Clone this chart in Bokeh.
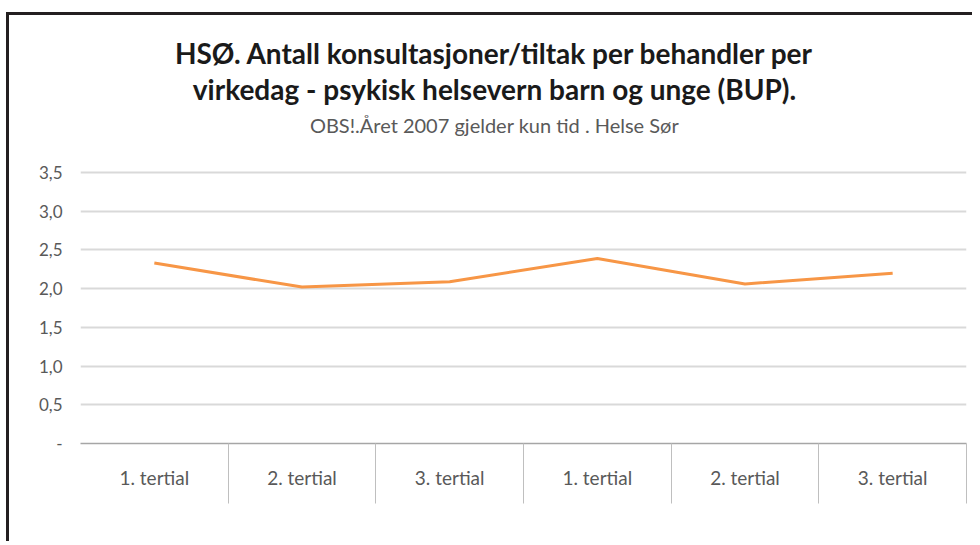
from bokeh.plotting import figure
from bokeh.models import FixedTicker, Label, Range1d
from bokeh.embed import file_html
from bokeh.resources import INLINE

# ---- data ----
categories = ["1. tertial", "2. tertial", "3. tertial", "1. tertial", "2. tertial", "3. tertial"]
values = [2.33, 2.02, 2.09, 2.39, 2.06, 2.20]
y_ticks = [0, 0.5, 1, 1.5, 2, 2.5, 3, 3.5]
y_tick_labels = ["-", "0,5", "1,0", "1,5", "2,0", "2,5", "3,0", "3,5"]
title_line1 = "HSØ. Antall konsultasjoner/tiltak per behandler per"
title_line2 = "virkedag - psykisk helsevern barn og unge (BUP)."
subtitle = "OBS!.Året 2007 gjelder kun tid . Helse Sør"

n = len(categories)
xs = [i + 0.5 for i in range(n)]

# frame extends up to the top of the canvas so titles (drawn inside it) are not clipped
px_per_unit = 271 / 3.5
y_top = 428 / px_per_unit

p = figure(width=966, height=529, output_backend="svg", toolbar_location=None,
           x_range=Range1d(0, n), y_range=Range1d(0, y_top),
           min_border_left=71, min_border_right=9, min_border_top=0, min_border_bottom=101)
p.styles = {"border-left": "3px solid #231f20", "border-top": "3px solid #231f20",
            "margin-top": "12px", "margin-left": "6px"}
p.title.visible = False
p.outline_line_color = None
p.background_fill_color = "white"
p.border_fill_color = "white"

p.line(xs, values, line_color="#f79646", line_width=3)

# y axis
p.yaxis.ticker = FixedTicker(ticks=y_ticks)
p.yaxis.major_label_overrides = {t: l for t, l in zip(y_ticks, y_tick_labels)}
p.yaxis.axis_line_color = None
p.yaxis.major_tick_line_color = None
p.yaxis.minor_tick_line_color = None
p.yaxis.major_label_text_font = "Lato"
p.yaxis.major_label_text_font_size = "17px"
p.yaxis.major_label_text_color = "#595959"
p.yaxis.major_label_standoff = 12

p.ygrid.ticker = FixedTicker(ticks=y_ticks)
p.ygrid.grid_line_color = "#d9d9d9"
p.ygrid.grid_line_width = 2
p.xgrid.visible = False

# x axis
p.xaxis.ticker = FixedTicker(ticks=xs, minor_ticks=list(range(1, n + 1)))
p.xaxis.major_label_overrides = {x: c for x, c in zip(xs, categories)}
p.xaxis.axis_line_color = "#a6a6a6"
p.xaxis.axis_line_width = 1.5
p.xaxis.major_tick_line_color = None
p.xaxis.major_tick_out = 0
p.xaxis.major_tick_in = 0
p.xaxis.minor_tick_line_color = "#bfbfbf"
p.xaxis.minor_tick_out = 60
p.xaxis.minor_tick_in = 0
p.xaxis.major_label_text_font = "Lato"
p.xaxis.major_label_text_font_size = "19px"
p.xaxis.major_label_text_color = "#595959"
p.xaxis.major_label_standoff = -38

# titles (screen units: x from frame left, y up from frame bottom)
for txt, y, size, color, style in [
    (title_line1, 391, "28px", "#1a1a1a", "bold"),
    (title_line2, 355, "28px", "#1a1a1a", "bold"),
    (subtitle, 319, "20px", "#595959", "normal"),
]:
    p.add_layout(Label(x=414, y=y, x_units="screen", y_units="screen", text=txt,
                       text_align="center", text_baseline="middle", text_font="Lato",
                       text_font_size=size, text_color=color, text_font_style=style))

open("out.html", "w").write(file_html(p, INLINE))
